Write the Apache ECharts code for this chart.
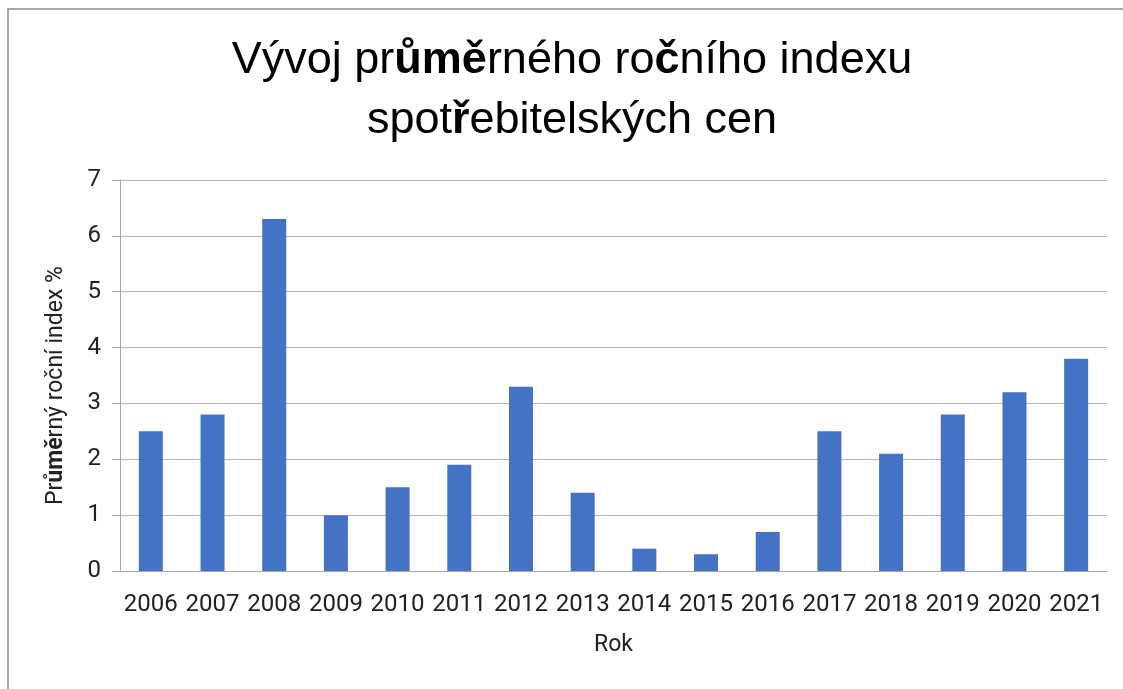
<!DOCTYPE html>
<html>
<head>
<meta charset="utf-8">
<script src="https://cdn.jsdelivr.net/npm/echarts@6/dist/echarts.min.js"></script>
<style>
  html, body { margin: 0; padding: 0; background: #fff; }
  #chart { width: 1123px; height: 689px; }
</style>
</head>
<body>
<div id="chart"></div>
<script>
const years = ['2006', '2007', '2008', '2009', '2010', '2011', '2012', '2013',
  '2014', '2015', '2016', '2017', '2018', '2019', '2020', '2021'];
const indexValues = [2.5, 2.8, 6.3, 1.0, 1.5, 1.9, 3.3, 1.4, 0.4, 0.3, 0.7, 2.5, 2.1, 2.8, 3.2, 3.8];
const chartTitle = 'Vývoj pr{b|ůmě}rného ro{b|č}ního indexu\nspot{b|ř}ebitelských cen';

const chart = echarts.init(document.getElementById('chart'));
const labelFont = 'Roboto, "Open Sans", sans-serif';
const titleFont = '"Liberation Sans", sans-serif';

chart.setOption({
  backgroundColor: '#fff',
  animation: false,
  graphic: [{
    type: 'rect',
    shape: { x: 8, y: 9, width: 1200, height: 800 },
    style: { fill: 'none', stroke: '#8c8c8c', lineWidth: 1.5 },
    silent: true
  }, {
    // title drawn as graphic so it can sit slightly right of centre like the original
    type: 'text',
    x: 572,
    y: 31,
    silent: true,
    style: {
      text: chartTitle,
      align: 'center',
      verticalAlign: 'top',
      fontFamily: titleFont,
      fontSize: 45,
      fill: '#000',
      lineHeight: 60,
      rich: {
        b: { fontFamily: titleFont, fontSize: 45, fontWeight: 'bold', fill: '#000', lineHeight: 60 }
      }
    }
  }],
  grid: { left: 120, right: 16, top: 180, bottom: 118 },
  xAxis: {
    type: 'category',
    data: years,
    name: 'Rok',
    nameLocation: 'middle',
    nameGap: 63,
    nameTextStyle: { fontFamily: labelFont, fontSize: 23, color: '#222' },
    axisLine: { lineStyle: { color: '#a6a6a6', width: 1 } },
    axisTick: { show: false },
    axisLabel: { fontFamily: labelFont, fontSize: 24, color: '#222', margin: 22, interval: 0 }
  },
  yAxis: {
    type: 'value',
    min: 0,
    max: 7,
    interval: 1,
    name: 'Pr{b|ůmě}rný roční index %',
    nameLocation: 'middle',
    nameGap: 52,
    nameTextStyle: {
      fontFamily: labelFont, fontSize: 23, color: '#222',
      padding: [0, 20, 0, 0],
      rich: { b: { fontFamily: labelFont, fontSize: 23, fontWeight: 'bold', color: '#222' } }
    },
    axisLine: { show: true, lineStyle: { color: '#a6a6a6', width: 1 } },
    axisTick: { show: true, length: 8, lineStyle: { color: '#a6a6a6' } },
    axisLabel: { fontFamily: labelFont, fontSize: 24, color: '#222', margin: 19 },
    splitLine: { lineStyle: { color: '#b3b3b3', width: 1 } }
  },
  series: [{
    type: 'bar',
    data: indexValues,
    barWidth: 24,
    itemStyle: { color: '#4472c4' }
  }]
});
</script>
</body>
</html>
